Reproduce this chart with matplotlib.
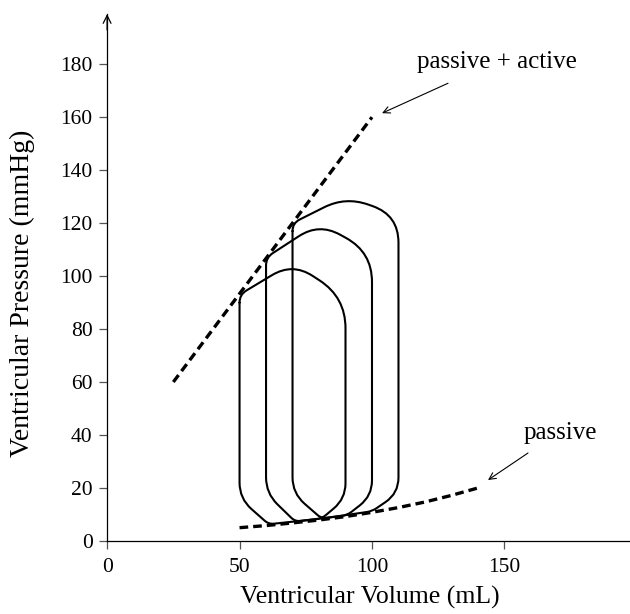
import numpy as np
import matplotlib
matplotlib.use("Agg")
import matplotlib.pyplot as plt
from matplotlib.path import Path
from matplotlib.patches import PathPatch

plt.rcParams['font.family'] = ['Liberation Serif', 'DejaVu Serif']
plt.rcParams['mathtext.fontset'] = 'stix'

# ---- data ----
esv = [50, 60, 70]                 # end-systolic volume (left vertical)
edv = [90, 100, 110]               # end-diastolic volume (right vertical)
peak_volume = [70, 80, 90]
peak_pressure = [105, 120, 130]
es_pressure = [93, 107, 120]       # top-left corner pressure
ed_top_pressure = [92, 109, 123]   # top-right corner pressure
bottom_left_p = [16, 18, 18]
bottom_right_p = [16, 17, 18]
fill_start_v = [61, 71, 81]        # where filling meets the passive curve
fill_end_v = [81, 90.6, 100]

passive_volume = [50, 60, 70, 80, 90, 100, 110, 120, 130, 140]
passive_pressure = [5.0, 5.8, 6.8, 7.9, 9.2, 10.8, 12.6, 14.7, 17.2, 20.0]

active_volume = [25, 100]
active_pressure = [60, 160]

xticks = [0, 50, 100, 150]
yticks = [0, 20, 40, 60, 80, 100, 120, 140, 160, 180]


def rounded_polygon(pts, radii):
    pts = np.asarray(pts, float)
    n = len(pts)
    verts, codes = [], []
    for i in range(n):
        p = pts[i]
        a = pts[i - 1]
        b = pts[(i + 1) % n]
        da = a - p
        db = b - p
        la = np.hypot(*da)
        lb = np.hypot(*db)
        r = min(radii[i], 0.49 * la, 0.49 * lb)
        s = p + da / la * r
        e = p + db / lb * r
        if i == 0:
            verts.append(s); codes.append(Path.MOVETO)
        else:
            verts.append(s); codes.append(Path.LINETO)
        verts += [p, e]
        codes += [Path.CURVE3, Path.CURVE3]
    verts.append(verts[0]); codes.append(Path.LINETO)
    return Path(verts, codes)


fig = plt.figure(figsize=(6.3, 6.14), dpi=100)
ax = fig.add_axes([0.170, 0.119, 0.830, 0.858])

# loops
for i in range(3):
    pb1 = np.interp(fill_start_v[i], passive_volume, passive_pressure) + 0.4
    pb2 = np.interp(fill_end_v[i], passive_volume, passive_pressure) + 0.4
    pts = [
        (esv[i], es_pressure[i]),
        (peak_volume[i], peak_pressure[i]),
        (edv[i], ed_top_pressure[i]),
        (edv[i], bottom_right_p[i]),
        (fill_end_v[i], pb2),
        (fill_start_v[i], pb1),
        (esv[i], bottom_left_p[i]),
    ]
    radii = [3, 9, 12, 6, 2, 2, 6]
    path = rounded_polygon(pts, radii)
    ax.add_patch(PathPatch(path, fill=False, lw=1.5, edgecolor='black',
                           capstyle='round', joinstyle='round', zorder=3))

# dashed relations
ax.plot(passive_volume, passive_pressure, color='black', lw=2.4,
        dashes=(2.6, 1.5), zorder=2)
ax.plot(active_volume, active_pressure, color='black', lw=2.4,
        dashes=(2.6, 1.5), zorder=2)

# annotations
ax.text(147, 181, 'passive + active', fontsize=18, ha='center', va='center')
ax.annotate('', xy=(103.8, 161.5), xytext=(128.7, 172.8),
            arrowprops=dict(arrowstyle='->', lw=0.8, color='black',
                            shrinkA=0, shrinkB=0, mutation_scale=12))
ax.text(171, 40.8, 'passive', fontsize=18, ha='center', va='center')
ax.annotate('', xy=(143.8, 23), xytext=(158.9, 33.2),
            arrowprops=dict(arrowstyle='->', lw=0.8, color='black',
                            shrinkA=0, shrinkB=0, mutation_scale=12))

ax.set_xlim(0, 197.4)
ax.set_ylim(0, 198.9)
ax.set_xticks(xticks)
ax.set_yticks(yticks)
ax.tick_params(direction='out', length=5.5, width=0.9, color='#555555',
               labelsize=15.5)
ax.tick_params(axis='x', pad=7)
ax.tick_params(axis='y', pad=5)
for s in ['top', 'right']:
    ax.spines[s].set_visible(False)
for s in ['left', 'bottom']:
    ax.spines[s].set_linewidth(0.9)
ax.annotate('', xy=(0, 1.0), xytext=(0, 0.97), xycoords='axes fraction',
            arrowprops=dict(arrowstyle='->', lw=0.9, color='black',
                            shrinkA=0, shrinkB=0, mutation_scale=14),
            annotation_clip=False)

ax.set_xlabel('Ventricular Volume (mL)', fontsize=18.5)
ax.set_ylabel('Ventricular Pressure (mmHg)', fontsize=20)
ax.xaxis.set_label_coords(0.503, -0.086)
ax.yaxis.set_label_coords(-0.138, 0.47)

fig.savefig('out.png', dpi=100)
